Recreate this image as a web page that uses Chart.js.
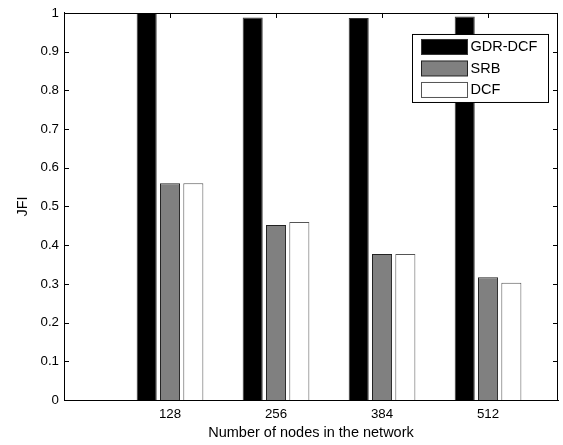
<!DOCTYPE html>
<html>
<head>
<meta charset="utf-8">
<title>JFI</title>
<script src="https://cdn.jsdelivr.net/npm/chart.js@4/dist/chart.umd.min.js"></script>
<style>
body{margin:0;background:#fff;}
</style>
</head>
<body>
<canvas id="jfiCanvas" width="563" height="445"></canvas>
<script>
// DATA ----------------------------
let nodes = ['128', '256', '384', '512'];
let gdrDcf = [1.0, 0.988, 0.987, 0.991];
let srb = [0.56, 0.452, 0.377, 0.317];
let dcf = [0.56, 0.46, 0.377, 0.303];
let yMax = 1;
let yStep = 0.1;

// each group sits at x = 1..4 on a linear axis
function toPoints(arr){
	return arr.map((v, i) => ({x: i + 1, y: v}));
}

let font = '"Liberation Sans", Arial, sans-serif';
Chart.defaults.font.family = font;
Chart.defaults.color = '#000';

// box round the plot, inward ticks on all four sides, legend inside
let frame = {
	id: 'frame',
	beforeDatasetsDraw(chart){
		let {ctx, chartArea: a, scales} = chart;
		ctx.save();
		ctx.strokeStyle = '#000';
		ctx.lineWidth = 1;
		ctx.beginPath();
		scales.y.ticks.forEach(t => {
			let y = Math.round(scales.y.getPixelForValue(t.value)) + 0.5;
			ctx.moveTo(a.left, y); ctx.lineTo(a.left + 5, y);
			ctx.moveTo(a.right - 5, y); ctx.lineTo(a.right, y);
		});
		scales.x.ticks.forEach(t => {
			let x = Math.round(scales.x.getPixelForValue(t.value)) + 0.5;
			ctx.moveTo(x, a.top); ctx.lineTo(x, a.top + 5);
			ctx.moveTo(x, a.bottom - 5); ctx.lineTo(x, a.bottom);
		});
		ctx.stroke();
		ctx.restore();
	},
	afterDatasetsDraw(chart){
		let {ctx, chartArea: a} = chart;
		ctx.save();
		ctx.strokeStyle = '#000';
		ctx.lineWidth = 1;
		ctx.beginPath();
		ctx.moveTo(a.left, Math.round(a.top) + 0.5);
		ctx.lineTo(a.right, Math.round(a.top) + 0.5);
		ctx.moveTo(Math.round(a.right) - 0.5, a.top);
		ctx.lineTo(Math.round(a.right) - 0.5, a.bottom);
		ctx.stroke();
		ctx.restore();
	},
	afterDraw(chart){
		let {ctx, chartArea: a} = chart;
		let boxW = 136, boxH = 68;
		let bx = a.right - 10 - boxW + 0.5;
		let by = a.top + 21 + 0.5;
		ctx.save();
		ctx.fillStyle = '#fff';
		ctx.strokeStyle = '#000';
		ctx.lineWidth = 1;
		ctx.fillRect(bx, by, boxW, boxH);
		ctx.strokeRect(bx, by, boxW, boxH);
		ctx.font = '14.5px ' + font;
		ctx.textBaseline = 'middle';
		chart.data.datasets.forEach((ds, i) => {
			let cy = by + 12.5 + i * 21.5;
			ctx.fillStyle = ds.backgroundColor;
			ctx.fillRect(bx + 9, cy - 7.5, 46, 15);
			ctx.strokeStyle = ds.borderColor;
			ctx.strokeRect(bx + 9, cy - 7.5, 46, 15);
			ctx.fillStyle = '#000';
			ctx.fillText(ds.label, bx + 58, cy + 0.5);
		});
		ctx.restore();
	}
};

let jfiChart = new Chart(document.getElementById('jfiCanvas'), {
	type: 'bar',
	data: {
		datasets: [{
			label: 'GDR-DCF',
			data: toPoints(gdrDcf),
			backgroundColor: '#000000',
			borderColor: '#333333',
		}, {
			label: 'SRB',
			data: toPoints(srb),
			backgroundColor: '#808080',
			borderColor: '#222222',
		}, {
			label: 'DCF',
			data: toPoints(dcf),
			backgroundColor: '#ffffff',
			borderColor: '#555555',
		}]
	},
	options: {
		responsive: false,
		animation: false,
		datasets: {
			bar: {
				borderWidth: 1,
				categoryPercentage: 0.66,
				barPercentage: 0.86,
			}
		},
		layout: {
			padding: {top: 11, right: 5, left: 0, bottom: 0}
		},
		plugins: {
			legend: {display: false},
			tooltip: {enabled: false},
		},
		scales: {
			x: {
				type: 'linear',
				offset: false,
				min: 0,
				max: 4.66,
				afterBuildTicks(scale){
					scale.ticks = nodes.map((n, i) => ({value: i + 1}));
				},
				afterFit(scale){
					scale.height = 45;
				},
				ticks: {
					callback: v => nodes[v - 1],
					font: {size: 13.3},
					padding: 6,
					maxRotation: 0,
				},
				grid: {display: false, drawTicks: false, offset: false},
				border: {display: true, color: '#000', width: 1, z: 1},
				title: {
					display: true,
					text: 'Number of nodes in the network',
					font: {size: 14.5},
					padding: {top: 0, bottom: 3},
				}
			},
			y: {
				min: 0,
				max: yMax,
				afterFit(scale){
					scale.width = 64;
				},
				ticks: {
					stepSize: yStep,
					callback: v => String(+v.toFixed(1)),
					font: {size: 13.3},
					padding: 5,
				},
				grid: {display: false, drawTicks: false},
				border: {display: true, color: '#000', width: 1, z: 1},
				title: {
					display: true,
					text: 'JFI',
					font: {size: 14.5},
					padding: {top: 14, bottom: 0},
				}
			}
		}
	},
	plugins: [frame]
});
</script>
</body>
</html>
